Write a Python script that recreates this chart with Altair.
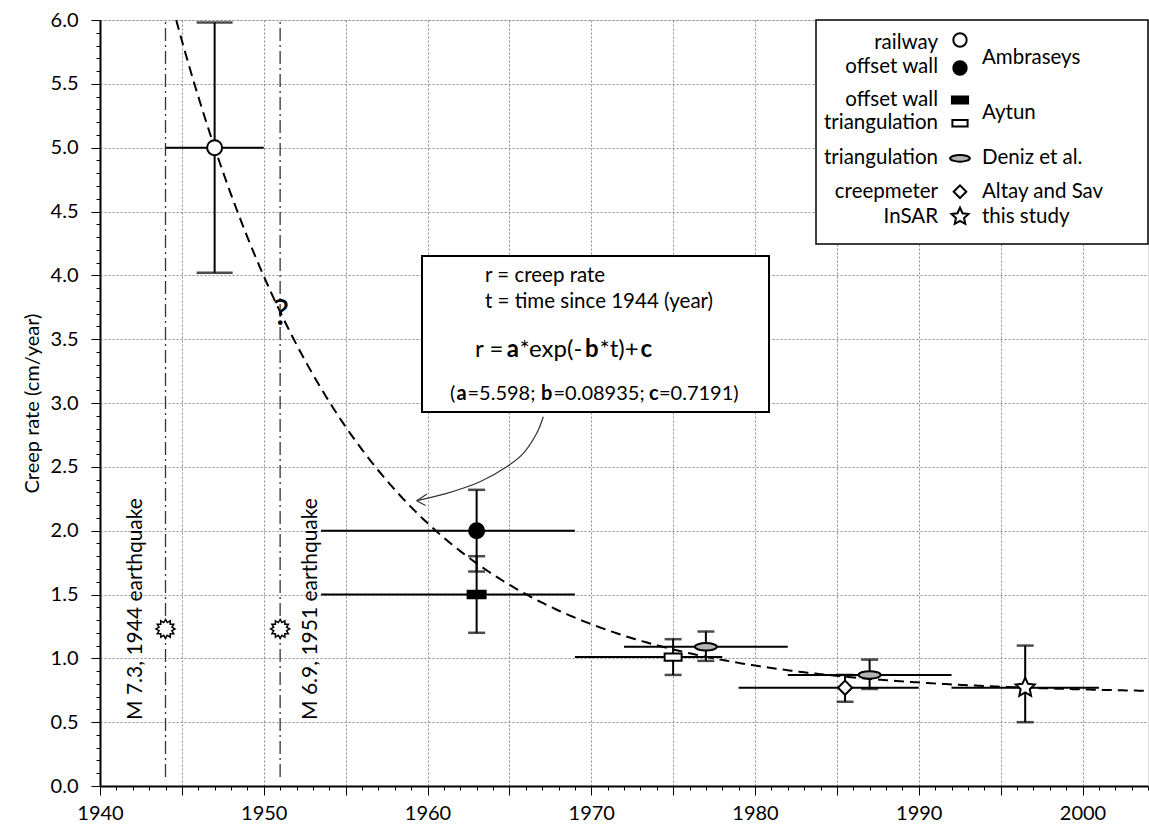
import math
import altair as alt
import numpy as np
import pandas as pd

FONT = "Lato"
INK = "black"

# ---------------- creep-rate measurements ----------------
source = ["Ambraseys", "Ambraseys", "Aytun", "Aytun", "Deniz et al.",
          "Altay and Sav", "Deniz et al.", "this study"]
method = ["railway", "offset wall", "offset wall", "triangulation", "triangulation",
          "creepmeter", "triangulation", "InSAR"]
year = [1947, 1963, 1963, 1975, 1977, 1985.5, 1987, 1996.5]
year_start = [1944, 1953.5, 1953.5, 1969, 1972, 1979, 1982, 1992]
year_end = [1950, 1969, 1969, 1978, 1982, 1990, 1992, 2001]
rate = [5.0, 2.0, 1.5, 1.01, 1.09, 0.77, 0.87, 0.77]
rate_low = [4.02, 1.68, 1.2, 0.87, 0.98, 0.66, 0.76, 0.5]
rate_high = [5.98, 2.32, 1.8, 1.15, 1.21, 0.87, 0.99, 1.1]

# exponential decay fit r = a*exp(-b*t)+c, t = years since 1944
fit_a, fit_b, fit_c = 5.598, 0.08935, 0.7191
fit_origin = 1944

# earthquakes
quake_year = [1944, 1951]
quake_label = ["M 7.3, 1944 earthquake", "M 6.9, 1951 earthquake"]

# ---------------- plot geometry helpers (annotation placement) ----------------
W, H = 1048, 766
X0, X1, Y0, Y1 = 1940, 2004, 0.0, 6.0


def yr(px):
    """pixel offset from the left of the canvas -> year"""
    return X0 + (px - 100) * (X1 - X0) / W


def rv(py):
    """pixel offset from the top of the canvas -> creep rate"""
    return Y0 + (20 + H - py) * (Y1 - Y0) / H


# ---------------- symbol shapes ----------------
def star_path(points, inner):
    pts = []
    for k in range(2 * points):
        ang = math.pi * k / points - math.pi / 2
        r = 1.0 if k % 2 == 0 else inner
        pts.append(f"{r * math.cos(ang):.3f},{r * math.sin(ang):.3f}")
    return "M" + "L".join(pts) + "Z"

RECT = "M-1,-0.42L1,-0.42L1,0.42L-1,0.42Z"
ELLIPSE = "M-1,0A1,0.34,0,1,0,1,0A1,0.34,0,1,0,-1,0Z"
STAR = star_path(5, 0.48)
BURST = star_path(12, 0.70)

STYLE = {
    ("Ambraseys", "railway"): ("circle", "white", 225, 36),
    ("Ambraseys", "offset wall"): ("circle", "black", 225, 17),
    ("Aytun", "offset wall"): (RECT, "black", 324, 17),
    ("Aytun", "triangulation"): (RECT, "white", 289, 17),
    ("Deniz et al.", "triangulation"): (ELLIPSE, "#b4b4b4", 484, 17),
    ("Altay and Sav", "creepmeter"): ("diamond", "white", 200, 17),
    ("this study", "InSAR"): (STAR, "white", 400, 17),
}

obs = pd.DataFrame({
    "source": source, "method": method, "year": year,
    "year_start": year_start, "year_end": year_end,
    "rate": rate, "rate_low": rate_low, "rate_high": rate_high,
})
obs["shape"] = [STYLE[(s, m)][0] for s, m in zip(source, method)]
obs["fill"] = [STYLE[(s, m)][1] for s, m in zip(source, method)]
obs["size"] = [STYLE[(s, m)][2] for s, m in zip(source, method)]
obs["cap"] = [STYLE[(s, m)][3] for s, m in zip(source, method)]

caps = pd.concat([
    obs[["year", "cap"]].assign(r=obs["rate_low"]),
    obs[["year", "cap"]].assign(r=obs["rate_high"]),
])

t_fit = np.arange(1944.4, 2004.01, 0.1)
fit = pd.DataFrame({"year": t_fit,
                    "r": fit_a * np.exp(-fit_b * (t_fit - fit_origin)) + fit_c})

# ---------------- scales & axes ----------------
XS = alt.Scale(domain=[X0, X1], nice=False, zero=False)
YS = alt.Scale(domain=[Y0, Y1], nice=False, zero=False)

XAXIS = alt.Axis(
    values=list(range(1940, 2005)),
    labelExpr="datum.value % 10 === 0 ? '' + datum.value : ''",
    labelFont=FONT, labelFontSize=20, labelColor=INK, labelPadding=8,
    labelOverlap=False, labelFlush=False,
    grid=True, gridColor="#8c8c8c", gridDash=[2, 2], gridWidth=1,
    gridOpacity={"condition": {"test": "datum.value % 5 === 0", "value": 1}, "value": 0},
    tickColor=INK, tickWidth=1,
    tickSize={"condition": {"test": "datum.value % 5 === 0", "value": 9}, "value": 4},
    domainColor=INK, domainWidth=2, title=None,
)
HALF = "abs(datum.value * 2 - round(datum.value * 2)) < 0.001"
YAXIS = alt.Axis(
    values=[round(0.1 * i, 1) for i in range(61)],
    labelExpr=f"{HALF} ? format(datum.value, '.1f') : ''",
    labelFont=FONT, labelFontSize=20, labelColor=INK, labelPadding=13,
    labelOverlap=False, labelFlush=False,
    grid=True, gridColor="#8c8c8c", gridDash=[2, 2], gridWidth=1,
    gridOpacity={"condition": {"test": HALF, "value": 1}, "value": 0},
    tickColor=INK, tickWidth=1,
    tickSize={"condition": {"test": HALF, "value": 9}, "value": 4},
    domainColor=INK, domainWidth=2,
    title="Creep rate (cm/year)", titleFont=FONT, titleFontSize=20,
    titleFontWeight="normal", titleColor=INK, titlePadding=8,
)


def X(f):
    return alt.X(f, type="quantitative", scale=XS, axis=XAXIS)


def Y(f):
    return alt.Y(f, type="quantitative", scale=YS, axis=YAXIS)


def text_layer(df, size, align="left", weight="normal", angle=0):
    return alt.Chart(df).mark_text(
        font=FONT, fontSize=size, align=align, baseline="middle",
        fontWeight=weight, angle=angle, color=INK,
    ).encode(x=X("x"), y=Y("y"), text="t:N", size=alt.value(size))


layers = []

# fitted curve
layers.append(alt.Chart(fit).mark_line(
    color=INK, strokeWidth=2, strokeDash=[10, 6], clip=True
).encode(x=X("year"), y=Y("r")))

# earthquake marker lines, bursts and labels
quakes = pd.DataFrame({"year": quake_year, "lo": [0.07, 0.07], "hi": [6.0, 6.0], "mark_y": [1.23, 1.23]})
layers.append(alt.Chart(quakes).mark_rule(
    color="#333333", strokeWidth=1.3, strokeDash=[13, 4, 2, 4]
).encode(x=X("year"), y=Y("lo"), y2="hi"))
layers.append(alt.Chart(quakes).mark_point(
    shape=BURST, size=360, filled=True, fill="white", stroke=INK, strokeWidth=1.5, opacity=1
).encode(x=X("year"), y=Y("mark_y")))
layers.append(text_layer(pd.DataFrame({
    "x": [yr(136), yr(311)], "y": [rv(609), rv(609)], "t": quake_label}), 21, align="center", angle=270))

# error bars
layers.append(alt.Chart(obs).mark_rule(color=INK, strokeWidth=2).encode(
    x=X("year_start"), x2="year_end", y=Y("rate")))
layers.append(alt.Chart(obs).mark_rule(color=INK, strokeWidth=2).encode(
    x=X("year"), y=Y("rate_low"), y2="rate_high"))
layers.append(alt.Chart(caps).mark_tick(orient="horizontal", thickness=2.5, color=INK).encode(
    x=X("year"), y=Y("r"), size=alt.Size("cap:Q", scale=None)))

# data symbols
layers.append(alt.Chart(obs).mark_point(filled=True, stroke=INK, strokeWidth=2, opacity=1).encode(
    x=X("year"), y=Y("rate"),
    shape=alt.Shape("shape:N", scale=None),
    fill=alt.Fill("fill:N", scale=None),
    size=alt.Size("size:Q", scale=None)))

# "?" near the 1951 earthquake
layers.append(text_layer(pd.DataFrame({"x": [yr(281)], "y": [rv(314)], "t": ["?"]}), 36, align="center"))

# equation box
layers.append(alt.Chart(pd.DataFrame({"x": [yr(422)], "x2": [yr(769)], "y": [rv(256)], "y2": [rv(412)]}))
              .mark_rect(fill="white", stroke=INK, strokeWidth=2)
              .encode(x=X("x"), x2="x2", y=Y("y"), y2="y2"))
layers.append(text_layer(pd.DataFrame({
    "x": [yr(485), yr(485)], "y": [rv(276), rv(302)],
    "t": ["r = creep rate", "t = time since 1944 (year)"]}), 20.5))

eq_y = rv(350)
layers.append(text_layer(pd.DataFrame({
    "x": [yr(475), yr(519.5), yr(599.5)], "y": [eq_y] * 3,
    "t": ["r =", "*exp(-", "*t)+"]}), 24))
layers.append(text_layer(pd.DataFrame({
    "x": [yr(506.7), yr(585), yr(640.6)], "y": [eq_y] * 3,
    "t": ["a", "b", "c"]}), 24, weight="bold"))

par_y = rv(394)
layers.append(text_layer(pd.DataFrame({
    "x": [yr(450), yr(467.5), yr(553.5), yr(659)], "y": [par_y] * 4,
    "t": ["(", "=5.598;", "=0.08935;", "=0.7191)"]}), 20))
layers.append(text_layer(pd.DataFrame({
    "x": [yr(456.5), yr(541), yr(649)], "y": [par_y] * 3,
    "t": ["a", "b", "c"]}), 20, weight="bold"))

# curved arrow from the box to the fitted curve
arrow_px = [(543.3, 416.7), (536.7, 433.3), (523.3, 453.3), (506.7, 466.7),
            (480.0, 481.7), (446.7, 493.3), (416.7, 500.7)]
arrow = pd.DataFrame({"x": [yr(p[0]) for p in arrow_px], "y": [rv(p[1]) for p in arrow_px],
                      "o": range(len(arrow_px))})
layers.append(alt.Chart(arrow).mark_line(color="#333333", strokeWidth=1.2, interpolate="catmull-rom").encode(
    x=X("x"), y=Y("y"), order="o:Q"))
head = pd.DataFrame({"x": [yr(416.7)] * 2, "y": [rv(500.7)] * 2,
                     "x2": [yr(427), yr(425.5)], "y2": [rv(494), rv(505.5)]})
layers.append(alt.Chart(head).mark_rule(color="#333333", strokeWidth=1.2).encode(
    x=X("x"), y=Y("y"), x2="x2", y2="y2"))

# legend panel
layers.append(alt.Chart(pd.DataFrame({"x": [yr(816)], "x2": [X1], "y": [Y1], "y2": [rv(244)]}))
              .mark_rect(fill="white", stroke=INK, strokeWidth=1.5)
              .encode(x=X("x"), x2="x2", y=Y("y"), y2="y2"))
leg_keys = [("Ambraseys", "railway"), ("Ambraseys", "offset wall"), ("Aytun", "offset wall"),
            ("Aytun", "triangulation"), ("Deniz et al.", "triangulation"),
            ("Altay and Sav", "creepmeter"), ("this study", "InSAR")]
leg_sym_py = [40, 68, 100, 123.3, 158.3, 191.7, 216.7]
leg_txt_py = [43, 66.7, 100, 123.3, 158.3, 191.7, 216.7]
leg_sym = pd.DataFrame({
    "x": [yr(960)] * 7, "y": [rv(p) for p in leg_sym_py],
    "shape": [STYLE[k][0] for k in leg_keys],
    "fill": [STYLE[k][1] for k in leg_keys],
    "size": [STYLE[k][2] * 0.8 for k in leg_keys],
})
layers.append(alt.Chart(leg_sym).mark_point(filled=True, stroke=INK, strokeWidth=2, opacity=1).encode(
    x=X("x"), y=Y("y"),
    shape=alt.Shape("shape:N", scale=None),
    fill=alt.Fill("fill:N", scale=None),
    size=alt.Size("size:Q", scale=None)))
layers.append(text_layer(pd.DataFrame({
    "x": [yr(938)] * 7, "y": [rv(p) for p in leg_txt_py],
    "t": [k[1] for k in leg_keys]}), 20.5, align="right"))
layers.append(text_layer(pd.DataFrame({
    "x": [yr(982)] * 5, "y": [rv(p) for p in [57.7, 113.3, 158.3, 191.7, 216.7]],
    "t": ["Ambraseys", "Aytun", "Deniz et al.", "Altay and Sav", "this study"]}), 20.5))

chart = alt.layer(*layers).properties(
    width=W, height=H,
    padding={"left": 100, "top": 20, "right": 1, "bottom": 41},
    autosize=alt.AutoSizeParams(type="none"),
    background="white",
).configure_view(stroke=INK, strokeWidth=2).configure(font=FONT)

chart.save("out.html", embed_options={"renderer": "svg", "actions": False})
